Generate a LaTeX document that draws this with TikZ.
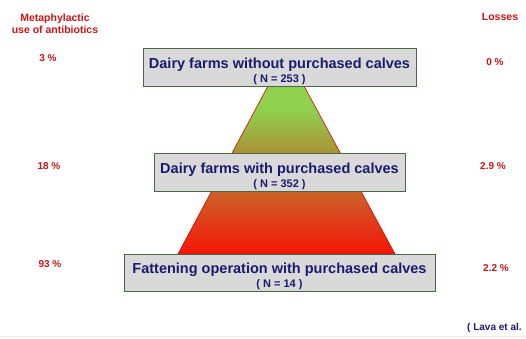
\documentclass[tikz,border=0pt]{standalone}
\usepackage{fontspec}
\setmainfont{Liberation Sans}
\usepackage{tikz}
\definecolor{navytext}{RGB}{26,26,110}
\definecolor{labelred}{RGB}{204,20,20}
\definecolor{boxgreen}{RGB}{70,105,70}
\definecolor{boxgray}{RGB}{217,217,217}
\definecolor{pyrgreen}{RGB}{143,209,79}
\definecolor{pyrolive}{RGB}{168,150,55}
\definecolor{pyrorange}{RGB}{205,95,40}
\definecolor{pyrred}{RGB}{245,20,8}
\pgfdeclareverticalshading{pyramidshade}{100bp}{color(0bp)=(pyrred); color(25bp)=(pyrred); color(42.6bp)=(pyrorange); color(56bp)=(pyrolive); color(68bp)=(pyrgreen); color(100bp)=(pyrgreen)}
\newcommand{\boxtitle}[1]{{\fontsize{14.5}{15}\selectfont\rule{0pt}{19pt}#1}}
\newcommand{\boxcount}[1]{{\fontsize{11}{12}\selectfont #1}}

\begin{document}
\begin{tikzpicture}[x=1pt, y=-1pt,
    farmbox/.style={draw=boxgreen, line width=0.8pt, fill=boxgray, inner sep=0pt,
      minimum height=38pt, align=center, text=navytext, font=\bfseries},
    sidelabel/.style={text=labelred, font=\bfseries\fontsize{10.5}{12.5}\selectfont, align=center, inner sep=0pt},
    pct/.style={text=labelred, font=\bfseries\fontsize{10}{12}\selectfont, inner sep=0pt}]
          \useasboundingbox (0,0) rectangle (526,338);
          \draw[gray!15] (0,336) -- (526,336);
          % pyramid behind the boxes
          \draw[red!85!black, line width=0.6pt, shading=pyramidshade]
            (268,86) -- (304,86) -- (395,254) -- (178,254) -- cycle;
          \node[farmbox, minimum width=273pt] (farmsA) at (279.5,67)
            {\boxtitle{Dairy farms without purchased calves}\\[2pt] \boxcount{( N = 253 )}};
          \node[farmbox, minimum width=251pt] (farmsB) at (279.5,172)
            {\boxtitle{Dairy farms with purchased calves}\\[2pt] \boxcount{( N = 352 )}};
          \node[farmbox, minimum width=311pt, minimum height=37pt] (fattening) at (279.5,272.5)
            {\boxtitle{Fattening operation with purchased calves\ }\\[2pt] \boxcount{( N = 14 )}};
          % left column
          \node[sidelabel] (useHead) at (55,23.5) {Metaphylactic\\use of antibiotics};
          \node[pct] (useA) at (48,58) {3 \%};
          \node[pct] (useB) at (49,166) {18 \%};
          \node[pct] (useC) at (50,264) {93 \%};
          % right column
          \node[sidelabel] (lossHead) at (500,17) {Losses};
          \node[pct] (lossA) at (495,62) {0 \%};
          \node[pct] (lossB) at (493,166) {2.9 \%};
          \node[pct] (lossC) at (496,268) {2.2 \%};
          \node[pct, navytext, anchor=west] (source) at (467,328) {( Lava et al.};
        \end{tikzpicture}
\end{document}
